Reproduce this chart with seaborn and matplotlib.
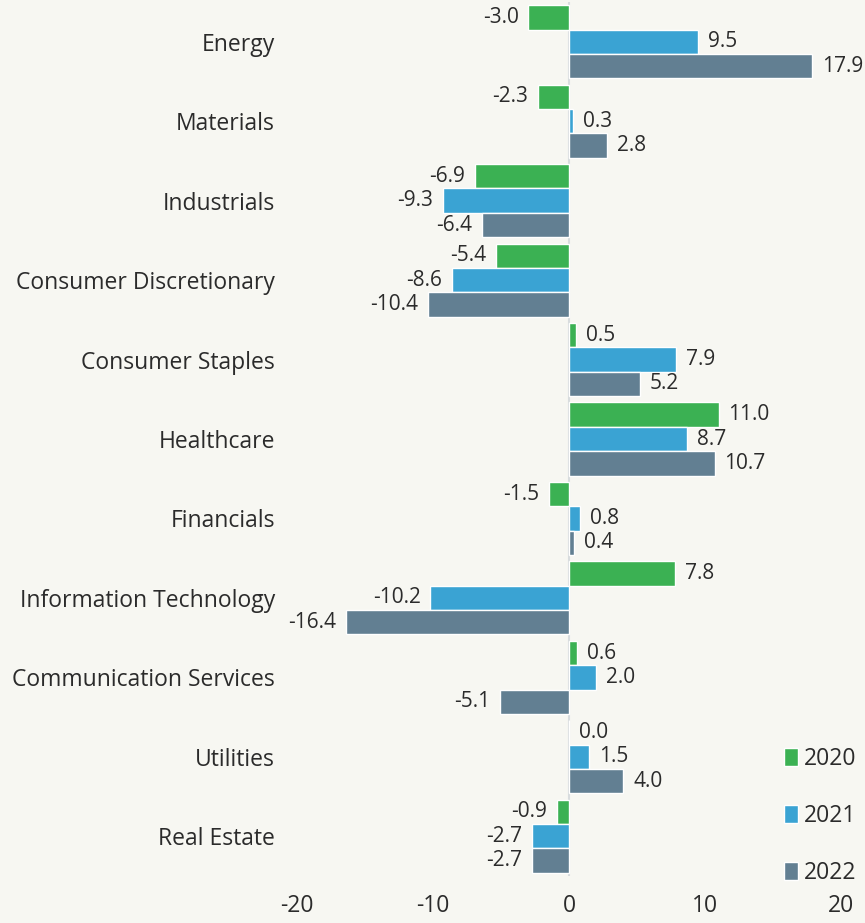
import pandas as pd
import numpy as np
import matplotlib.pyplot as plt
import seaborn as sns

# ── Data ──────────────────────────────────────────────────────
sectors = ["Energy", "Materials", "Industrials", "Consumer Discretionary",
           "Consumer Staples", "Healthcare", "Financials",
           "Information Technology", "Communication Services",
           "Utilities", "Real Estate"]
years = ["2020", "2021", "2022"]
vals_2020 = [-3.0, -2.3, -6.9, -5.4, 0.5, 11.0, -1.5, 7.8, 0.6, 0.0, -0.9]
vals_2021 = [9.5, 0.3, -9.3, -8.6, 7.9, 8.7, 0.8, -10.2, 2.0, 1.5, -2.7]
vals_2022 = [17.9, 2.8, -6.4, -10.4, 5.2, 10.7, 0.4, -16.4, -5.1, 4.0, -2.7]
x_ticks = [-20, -10, 0, 10, 20]

df = pd.DataFrame({
    "Sector": sectors * 3,
    "Year": np.repeat(years, len(sectors)),
    "Value": vals_2020 + vals_2021 + vals_2022,
})

# ── Style ─────────────────────────────────────────────────────
bg = "#f7f7f2"
txt = "#2b2b2b"
palette = {"2020": "#3bb153", "2021": "#3aa3d3", "2022": "#627f92"}

sns.set_style("white")
plt.rcParams["font.family"] = ["Open Sans", "DejaVu Sans"]
plt.rcParams["axes.unicode_minus"] = False
plt.rcParams["text.color"] = txt
fs = 16.5      # category / tick labels
fs_val = 15    # bar value labels

fig = plt.figure(figsize=(8.65, 9.23), dpi=100, facecolor=bg)
ax = fig.add_axes([0.3434, 0.0509, 0.6289, 0.9469], facecolor=bg)

sns.barplot(data=df, y="Sector", x="Value", hue="Year", orient="h",
            palette=palette, width=0.92, ax=ax, saturation=1,
            order=sectors, hue_order=years)

ax.axvline(0, color="#d8dcde", lw=1.5, zorder=0)

for cont in ax.containers:
    ax.bar_label(cont, fmt="%.1f", padding=7, fontsize=fs_val, color=txt)

ax.set_xlim(-20, 20)
ax.set_ylim(len(sectors) - 0.5, -0.5)
ax.set_xticks(x_ticks)
ax.set_xlabel("")
ax.set_ylabel("")
ax.tick_params(axis="both", length=0, labelsize=fs, colors=txt)
ax.tick_params(axis="y", pad=16)
ax.tick_params(axis="x", pad=13)
sns.despine(ax=ax, left=True, bottom=True)

ax.legend(loc="lower left", bbox_to_anchor=(0.906, 0.041),
          bbox_transform=fig.transFigure, frameon=False, fontsize=fs,
          handlelength=0.62, handleheight=0.85, handletextpad=0.28,
          labelspacing=1.45, borderaxespad=0, borderpad=0)

fig.savefig("out.png", dpi=100, facecolor=bg)
